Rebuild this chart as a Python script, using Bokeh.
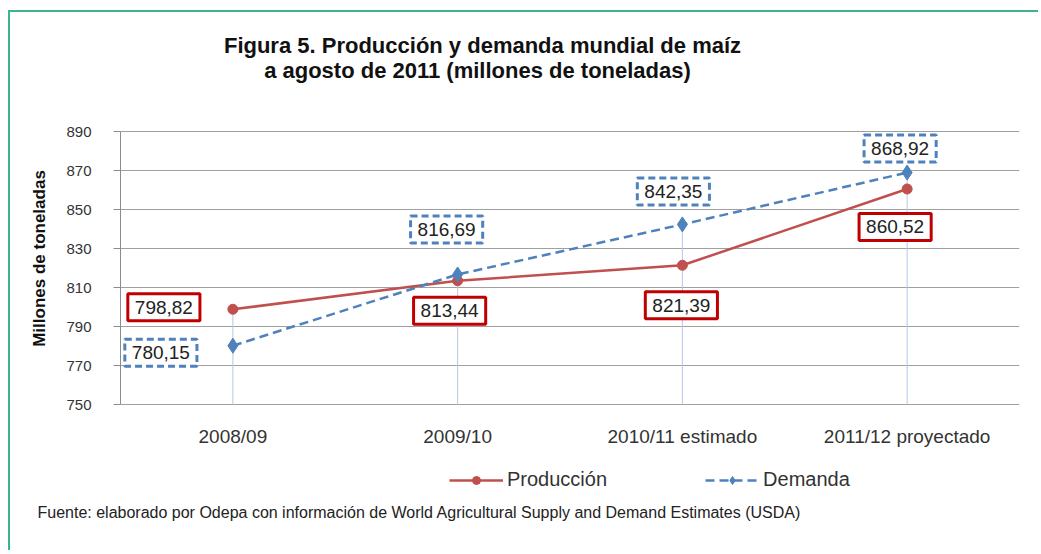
from bokeh.plotting import figure
from bokeh.models import FactorRange, Range1d, FixedTicker, Label, Legend, LegendItem, Title
from bokeh.core.properties import value
from bokeh.embed import file_html
from bokeh.resources import INLINE

categories = ["2008/09", "2009/10", "2010/11 estimado", "2011/12 proyectado"]
produccion = [798.82, 813.44, 821.39, 860.52]
demanda = [780.15, 816.69, 842.35, 868.92]
y_ticks = [750, 770, 790, 810, 830, 850, 870, 890]

title_lines = ["Figura 5. Producción y demanda mundial de maíz",
               "a agosto de 2011 (millones de toneladas)"]
y_label = "Millones de toneladas"
source_note = "Fuente: elaborado por Odepa con información de World Agricultural Supply and Demand Estimates  (USDA)"

# ---- layout / styling (pixels) ----
FONT = "Liberation Sans"
RED = "#c0504d"
BLUE = "#4f81bd"
W, H = 1030, 540
FRAME_TOP, FRAME_BOTTOM = 0, 492          # frame edges inside the canvas
AXIS_TOP, AXIS_BOTTOM = 119, 392          # where 890 and 750 should sit
prod_offsets = [(-69, 2), (-8, -30), (-1, -40), (-12, -38)]
dem_offsets = [(-72, -7), (-11, 45), (-9, 33), (-7, 24)]

px_per_unit = (AXIS_BOTTOM - AXIS_TOP) / (y_ticks[-1] - y_ticks[0])
y_lo = y_ticks[0] - (FRAME_BOTTOM - AXIS_BOTTOM) / px_per_unit
y_hi = y_ticks[-1] + (AXIS_TOP - FRAME_TOP) / px_per_unit


def fmt(v):
    return f"{v:.2f}".replace(".", ",")


p = figure(x_range=FactorRange(factors=categories, range_padding=0),
           y_range=Range1d(y_lo, y_hi), x_axis_location=None,
           width=W, height=H, output_backend="svg", toolbar_location=None,
           min_border_left=110, min_border_top=FRAME_TOP, min_border_right=21,
           min_border_bottom=H - FRAME_BOTTOM)
p.styles = {"margin-left": "8px", "margin-top": "10px",
            "border-left": "2px solid #3cb48c", "border-top": "2px solid #3cb48c"}
p.outline_line_color = None
p.background_fill_color = "white"
p.title.text = ""

# y axis
p.yaxis.ticker = FixedTicker(ticks=y_ticks)
p.yaxis.bounds = (y_ticks[0], y_ticks[-1])
p.yaxis.minor_tick_line_color = None
p.yaxis.major_tick_out = 7
p.yaxis.major_tick_in = 0
p.yaxis.major_tick_line_color = "#8c8c8c"
p.yaxis.axis_line_color = "#8c8c8c"
p.yaxis.major_label_text_font = FONT
p.yaxis.major_label_text_font_size = "15px"
p.yaxis.major_label_text_color = "#333333"
p.yaxis.major_label_standoff = 22
p.yaxis.axis_label = y_label
p.yaxis.axis_label_text_font = FONT
p.yaxis.axis_label_text_font_size = "17px"
p.yaxis.axis_label_text_font_style = "bold"
p.yaxis.axis_label_text_color = "#111111"
p.yaxis.axis_label_standoff = 14

p.xgrid.grid_line_color = None
p.ygrid.ticker = FixedTicker(ticks=y_ticks)
p.ygrid.grid_line_color = "#a0a0a0"
p.ygrid.grid_line_width = 1

# category labels under the base line
p.text(x=categories, y=[y_ticks[0]] * len(categories), text=categories,
       y_offset=32, text_align="center", text_baseline="middle",
       text_font=value(FONT), text_font_size="19px", text_color="#333333")

# drop lines
tops = [max(a, b) for a, b in zip(produccion, demanda)]
p.segment(x0=categories, y0=[y_ticks[0]] * len(categories), x1=categories, y1=tops,
          line_color="#b4c8e6", line_width=1)

# series
lp = p.line(categories, produccion, line_color=RED, line_width=2.5)
sp = p.scatter(categories, produccion, marker="circle", size=10, fill_color=RED, line_color=RED)
ld = p.line(categories, demanda, line_color=BLUE, line_width=2.5, line_dash="9 5")
sd = p.scatter(categories, demanda, marker="diamond", size=15, fill_color=BLUE, line_color=BLUE)

# data labels (synthetic categorical coordinate: factor i is centred at i + 0.5)
for i, (v, (dx, dy)) in enumerate(zip(produccion, prod_offsets)):
    p.add_layout(Label(x=i + 0.5, y=v, x_offset=dx, y_offset=dy, text=fmt(v),
                       text_font=FONT, text_font_size="19px", text_color="#222222",
                       text_align="center", text_baseline="middle",
                       background_fill_color="white", border_line_color="#c00000",
                       border_line_width=3, padding=7))
for i, (v, (dx, dy)) in enumerate(zip(demanda, dem_offsets)):
    p.add_layout(Label(x=i + 0.5, y=v, x_offset=dx, y_offset=dy, text=fmt(v),
                       text_font=FONT, text_font_size="19px", text_color="#222222",
                       text_align="center", text_baseline="middle",
                       background_fill_color="white", border_line_color=BLUE,
                       border_line_width=3, border_line_dash="7 4", padding=7))

# title (screen units measured from the frame's bottom-left corner)
for t, (tx, ty) in zip(title_lines, [(362, 459), (357, 434)]):
    p.add_layout(Label(x=tx, y=ty, x_units="screen", y_units="screen", text=t,
                       text_font=FONT, text_font_size="22px", text_font_style="bold",
                       text_color="#111111", text_align="center", text_baseline="middle"))

legend = Legend(items=[LegendItem(label="Producción", renderers=[lp, sp]),
                       LegendItem(label="Demanda", renderers=[ld, sd])],
                orientation="horizontal", location=(329, 13),
                glyph_width=54, glyph_height=20, label_standoff=4, spacing=98,
                padding=0, margin=0, border_line_color=None, background_fill_alpha=0,
                label_text_font=FONT, label_text_font_size="20px", label_text_color="#333333")
p.add_layout(legend)

p.add_layout(Title(text=source_note, align="left", offset=-83, standoff=-5,
                   text_font=FONT, text_font_size="16px", text_font_style="normal",
                   text_color="#222222"), "below")

open("out.html", "w").write(file_html(p, INLINE))
